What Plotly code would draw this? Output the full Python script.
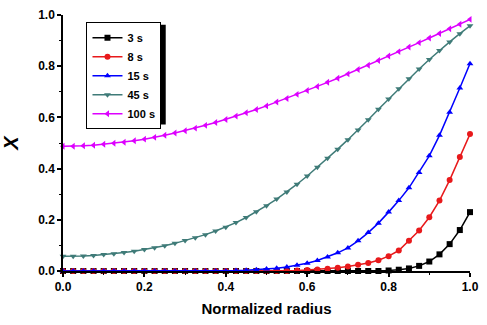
import plotly.graph_objects as go

radius = [i / 40 for i in range(41)]

x_3s = [0.0]*32 + [0.002, 0.005, 0.010, 0.020, 0.037, 0.065, 0.105, 0.160, 0.230]

x_8s = [0.0]*23 + [0.002, 0.004, 0.006, 0.009, 0.013, 0.018, 0.024, 0.031, 0.042,
                   0.058, 0.080, 0.118, 0.158, 0.210, 0.275, 0.355, 0.445, 0.535]

x_15s = [0.0]*17 + [0.002, 0.003, 0.005, 0.008, 0.011, 0.016, 0.022, 0.030, 0.041,
                    0.055, 0.071, 0.090, 0.118, 0.150, 0.187, 0.230, 0.275, 0.325,
                    0.385, 0.450, 0.530, 0.620, 0.715, 0.810]

x_45s = [0.058, 0.058, 0.059, 0.061, 0.064, 0.067, 0.072, 0.077, 0.084, 0.091,
         0.099, 0.108, 0.119, 0.130, 0.142, 0.156, 0.171, 0.189, 0.209, 0.231,
         0.255, 0.281, 0.309, 0.339, 0.371, 0.405, 0.440, 0.476, 0.513, 0.551,
         0.591, 0.632, 0.672, 0.712, 0.751, 0.789, 0.826, 0.861, 0.895, 0.927, 0.958]

x_100s = [0.487, 0.487, 0.489, 0.491, 0.495, 0.499, 0.503, 0.509, 0.515, 0.522,
          0.530, 0.539, 0.548, 0.558, 0.569, 0.580, 0.592, 0.605, 0.618, 0.631,
          0.645, 0.660, 0.674, 0.690, 0.705, 0.721, 0.737, 0.753, 0.770, 0.787,
          0.804, 0.822, 0.840, 0.857, 0.875, 0.892, 0.910, 0.928, 0.946, 0.964, 0.983]

series_names = ["3 s", "8 s", "15 s", "45 s", "100 s"]
series_values = [x_3s, x_8s, x_15s, x_45s, x_100s]
colors = ["#000000", "#e8191b", "#0000ff", "#3f7b78", "#dd00ff"]
symbols = ["square", "circle", "triangle-up", "triangle-down", "triangle-left"]

tick_vals = [0.0, 0.2, 0.4, 0.6, 0.8, 1.0]
tick_text = ["0.0", "0.2", "0.4", "0.6", "0.8", "1.0"]

fig = go.Figure()
for name, vals, col, sym in zip(series_names, series_values, colors, symbols):
    fig.add_trace(go.Scatter(
        x=radius, y=vals, name=name, mode="lines+markers",
        line=dict(color=col, width=1.5),
        marker=dict(symbol=sym, size=6, color=col),
        cliponaxis=False,
    ))

font_family = "Liberation Sans, Arial, sans-serif"
axis_common = dict(
    showgrid=False, zeroline=False, showline=True, linecolor="black", linewidth=1.5,
    ticks="outside", ticklen=4, tickwidth=1.5, tickcolor="black",
    tickfont=dict(family=font_family, size=12, color="black", weight="bold"),
    minor=dict(ticks="outside", ticklen=2.5, tickwidth=1.2, tickcolor="black", dtick=0.1),
    tickvals=tick_vals, ticktext=tick_text, range=[0, 1],
    ticklabeloverflow="allow",
)

# legend drop shadow (paper coordinates)
fig.add_shape(type="rect", xref="paper", yref="paper",
              x0=0.065, x1=0.2524, y0=0.572, y1=0.962,
              fillcolor="black", line=dict(width=0), layer="above")

fig.update_layout(
    width=487, height=325,
    margin=dict(l=63, r=8, t=15, b=54),
    paper_bgcolor="white", plot_bgcolor="white",
    xaxis=dict(**axis_common,
               title=dict(text="<b>Normalized radius</b>", standoff=10,
                          font=dict(family=font_family, size=15, color="black"))),
    yaxis=dict(**axis_common,
               title=dict(text="<b><i>X</i></b>", standoff=14,
                          font=dict(family=font_family, size=20, color="black"))),
    legend=dict(x=0.0577, y=0.972, xanchor="left", yanchor="top",
                bgcolor="white", bordercolor="black", borderwidth=1,
                font=dict(family=font_family, size=11, color="black", weight="bold"),
                itemwidth=30, tracegroupgap=0),
    showlegend=True,
)

fig.write_html("out.html", config={"displayModeBar": False},
               post_script="document.body.style.margin='0';")
